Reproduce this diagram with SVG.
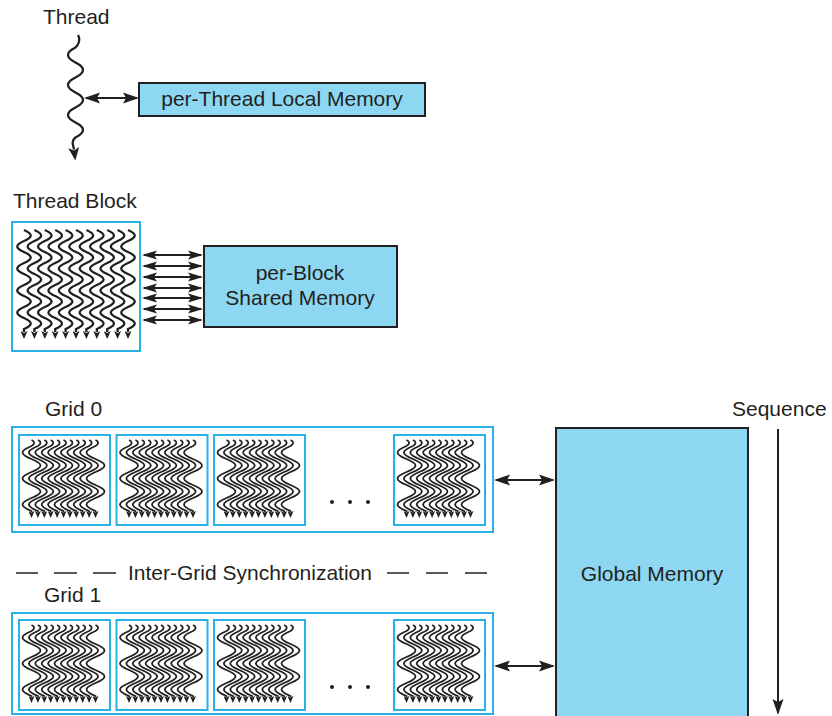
<svg xmlns="http://www.w3.org/2000/svg" xmlns:xlink="http://www.w3.org/1999/xlink" width="832" height="716" viewBox="0 0 832 716">
<style>
  text { font-family: "Liberation Sans", Arial, sans-serif; font-size: 21px; fill: #231F20; }
  .mem { fill: #8DD7F3; stroke: #231F20; stroke-width: 2; }
  .cy { fill: #FFFFFF; stroke: #29B2E6; stroke-width: 2; }
  .thr { fill: none; stroke: #231F20; stroke-width: 2.3; }
  .mthr { fill: none; stroke: #231F20; stroke-width: 1.8; }
  .conn { stroke: #231F20; stroke-width: 2; fill: none; }
  .dash { stroke: #231F20; stroke-width: 1.5; }
  .dot { fill: #231F20; }
</style>
<defs>
  <marker id="ahBig" markerUnits="userSpaceOnUse" markerWidth="16" markerHeight="12" viewBox="0 0 16 12" refX="14" refY="6" orient="auto-start-reverse">
    <path d="M0,0.5 L16,6 L0,11.5 L3,6 z" fill="#231F20"/>
  </marker>
  <marker id="ahSmall" markerUnits="userSpaceOnUse" markerWidth="15" markerHeight="10" viewBox="0 0 15 10" refX="13" refY="5" orient="auto-start-reverse">
    <path d="M0,0.5 L15,5 L0,9.5 L3,5 z" fill="#231F20"/>
  </marker>
  <marker id="thTop" markerUnits="userSpaceOnUse" markerWidth="13" markerHeight="11" viewBox="0 0 13 11" refX="2" refY="5.5" orient="auto">
    <path d="M0,0 L13,5.5 L0,11 L3,5.5 z" fill="#231F20"/>
  </marker>
  <marker id="thBlk" markerUnits="userSpaceOnUse" markerWidth="8" markerHeight="7" viewBox="0 0 8 7" refX="1" refY="3.5" orient="auto">
    <path d="M0,0 L8,3.5 L0,7 L2,3.5 z" fill="#231F20"/>
  </marker>
  <marker id="thMini" markerUnits="userSpaceOnUse" markerWidth="7" markerHeight="6" viewBox="0 0 7 6" refX="1" refY="3" orient="auto">
    <path d="M0,0 L7,3 L0,6 L1.5,3 z" fill="#231F20"/>
  </marker>
  <path id="bt" class="thr" marker-end="url(#thBlk)" d="M0,0 c9,4 9,7 0,11 s-9,7 0,11 s9,7 0,11 s-9,7 0,11 s9,7 0,11 s-9,7 0,11 s9,7 0,11 s-9,7 0,11 s9,7 0,11 l0,3"/>
  <path id="mt" class="mthr" marker-end="url(#thMini)" d="M0,0 c3.5,1.5 3.5,4 0,6 c-12,5 -12,8 0,13 s12,8 0,13 s-12,8 0,13 s12,8 0,13 s-12,8 0,13 l0,1"/>
  <g id="mtg">
    <use xlink:href="#mt" href="#mt" x="12.5" y="5"/>
    <use xlink:href="#mt" href="#mt" x="18.9" y="5"/>
    <use xlink:href="#mt" href="#mt" x="25.3" y="5"/>
    <use xlink:href="#mt" href="#mt" x="31.7" y="5"/>
    <use xlink:href="#mt" href="#mt" x="38.1" y="5"/>
    <use xlink:href="#mt" href="#mt" x="44.5" y="5"/>
    <use xlink:href="#mt" href="#mt" x="50.9" y="5"/>
    <use xlink:href="#mt" href="#mt" x="57.3" y="5"/>
    <use xlink:href="#mt" href="#mt" x="63.7" y="5"/>
    <use xlink:href="#mt" href="#mt" x="70.1" y="5"/>
    <use xlink:href="#mt" href="#mt" x="76.5" y="5"/>
  </g>
</defs>

<g id="thread">
  <text x="43" y="24">Thread</text>
  <path class="thr" stroke-width="2" marker-end="url(#thTop)" d="M78,35 C81,40 78,45 75.5,47.5 c-10,5 -10,10 0,15 s10,10 0,15 s-10,10 0,15 s10,10 0,15 s-10,10 0,15 s10,10 0,15 c-5,4 -2,8 -1.5,12"/>
</g>

<g id="local-memory">
  <rect class="mem" x="139" y="83" width="286" height="33"/>
  <text x="282" y="106" text-anchor="middle">per-Thread Local Memory</text>
</g>

<g id="thread-block">
  <text x="13" y="208">Thread Block</text>
  <rect class="cy" x="12" y="222" width="128" height="129"/>
  <use xlink:href="#bt" href="#bt" x="24" y="230"/>
  <use xlink:href="#bt" href="#bt" x="34.4" y="230"/>
  <use xlink:href="#bt" href="#bt" x="44.8" y="230"/>
  <use xlink:href="#bt" href="#bt" x="55.2" y="230"/>
  <use xlink:href="#bt" href="#bt" x="65.6" y="230"/>
  <use xlink:href="#bt" href="#bt" x="76" y="230"/>
  <use xlink:href="#bt" href="#bt" x="86.4" y="230"/>
  <use xlink:href="#bt" href="#bt" x="96.8" y="230"/>
  <use xlink:href="#bt" href="#bt" x="107.2" y="230"/>
  <use xlink:href="#bt" href="#bt" x="117.6" y="230"/>
  <use xlink:href="#bt" href="#bt" x="128" y="230"/>
</g>

<g id="shared-memory">
  <rect class="mem" x="204" y="246" width="193" height="81"/>
  <text x="300" y="280" text-anchor="middle">per-Block</text>
  <text x="300" y="305" text-anchor="middle">Shared Memory</text>
</g>

<g id="grid0">
  <text x="45" y="416">Grid 0</text>
  <rect class="cy" x="12" y="427" width="481" height="105"/>
  <rect class="cy" x="19" y="435" width="91" height="90"/>
  <use xlink:href="#mtg" href="#mtg" transform="translate(19,435)"/>
  <rect class="cy" x="116.5" y="435" width="91" height="90"/>
  <use xlink:href="#mtg" href="#mtg" transform="translate(116.5,435)"/>
  <rect class="cy" x="214" y="435" width="91" height="90"/>
  <use xlink:href="#mtg" href="#mtg" transform="translate(214,435)"/>
  <rect class="cy" x="394" y="435" width="91" height="90"/>
  <use xlink:href="#mtg" href="#mtg" transform="translate(394,435)"/>
  <circle class="dot" cx="332" cy="502" r="2"/>
  <circle class="dot" cx="350" cy="502" r="2"/>
  <circle class="dot" cx="368" cy="502" r="2"/>
</g>

<g id="sync">
  <line class="dash" x1="16" y1="573" x2="38" y2="573"/>
  <line class="dash" x1="54" y1="573" x2="77" y2="573"/>
  <line class="dash" x1="93" y1="573" x2="116" y2="573"/>
  <text x="128" y="580">Inter-Grid Synchronization</text>
  <line class="dash" x1="387" y1="573" x2="409" y2="573"/>
  <line class="dash" x1="426" y1="573" x2="448" y2="573"/>
  <line class="dash" x1="465" y1="573" x2="487" y2="573"/>
</g>

<g id="grid1">
  <text x="44" y="602">Grid 1</text>
  <rect class="cy" x="12" y="613" width="481" height="101"/>
  <rect class="cy" x="19" y="620" width="91" height="90"/>
  <use xlink:href="#mtg" href="#mtg" transform="translate(19,620)"/>
  <rect class="cy" x="116.5" y="620" width="91" height="90"/>
  <use xlink:href="#mtg" href="#mtg" transform="translate(116.5,620)"/>
  <rect class="cy" x="214" y="620" width="91" height="90"/>
  <use xlink:href="#mtg" href="#mtg" transform="translate(214,620)"/>
  <rect class="cy" x="394" y="620" width="91" height="90"/>
  <use xlink:href="#mtg" href="#mtg" transform="translate(394,620)"/>
  <circle class="dot" cx="332" cy="687" r="2"/>
  <circle class="dot" cx="350" cy="687" r="2"/>
  <circle class="dot" cx="368" cy="687" r="2"/>
</g>

<g id="global-memory">
  <rect class="mem" x="556" y="428" width="192" height="300"/>
  <text x="652" y="581" text-anchor="middle">Global Memory</text>
</g>

<g id="sequence">
  <text x="732" y="416">Sequence</text>
  <line class="conn" x1="778" y1="429" x2="778" y2="713" marker-end="url(#ahBig)"/>
</g>

<g id="connectors">
  <line class="conn" x1="86" y1="98" x2="137" y2="98" marker-start="url(#ahBig)" marker-end="url(#ahBig)"/>
  <line class="conn" x1="144" y1="255" x2="201" y2="255" marker-start="url(#ahSmall)" marker-end="url(#ahSmall)"/>
  <line class="conn" x1="144" y1="266" x2="201" y2="266" marker-start="url(#ahSmall)" marker-end="url(#ahSmall)"/>
  <line class="conn" x1="144" y1="277" x2="201" y2="277" marker-start="url(#ahSmall)" marker-end="url(#ahSmall)"/>
  <line class="conn" x1="144" y1="288" x2="201" y2="288" marker-start="url(#ahSmall)" marker-end="url(#ahSmall)"/>
  <line class="conn" x1="144" y1="298" x2="201" y2="298" marker-start="url(#ahSmall)" marker-end="url(#ahSmall)"/>
  <line class="conn" x1="144" y1="309" x2="201" y2="309" marker-start="url(#ahSmall)" marker-end="url(#ahSmall)"/>
  <line class="conn" x1="144" y1="320" x2="201" y2="320" marker-start="url(#ahSmall)" marker-end="url(#ahSmall)"/>
  <line class="conn" x1="496" y1="480" x2="553" y2="480" marker-start="url(#ahBig)" marker-end="url(#ahBig)"/>
  <line class="conn" x1="496" y1="666" x2="553" y2="666" marker-start="url(#ahBig)" marker-end="url(#ahBig)"/>
</g>
</svg>
